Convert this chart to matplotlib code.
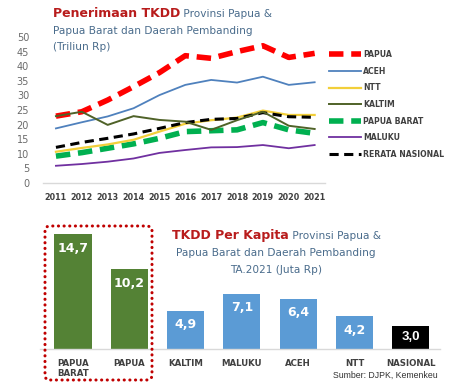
import numpy as np
import matplotlib
matplotlib.use('Agg')
import matplotlib.pyplot as plt
from matplotlib.patches import FancyBboxPatch

# Data: TKDD receipts (Triliun Rp)
years = [2011, 2012, 2013, 2014, 2015, 2016, 2017, 2018, 2019, 2020, 2021]
papua = [22.9, 24.4, 28.4, 33.0, 37.8, 43.6, 42.7, 45.0, 47.0, 43.0, 44.4]
aceh = [18.7, 20.8, 22.8, 25.6, 30.1, 33.6, 35.3, 34.4, 36.4, 33.6, 34.5]
ntt = [10.7, 12.0, 13.2, 14.8, 17.6, 20.3, 21.5, 22.4, 24.8, 23.3, 23.3]
kaltim = [22.9, 24.4, 19.9, 22.9, 21.6, 21.0, 18.2, 21.5, 24.4, 19.6, 18.5]
papua_barat = [9.2, 10.4, 11.9, 13.4, 15.3, 17.6, 17.9, 18.2, 20.7, 18.2, 17.0]
maluku = [5.9, 6.5, 7.3, 8.4, 10.3, 11.3, 12.2, 12.3, 13.0, 11.9, 13.0]
rerata = [12.2, 13.9, 15.3, 16.8, 18.7, 20.7, 21.8, 22.1, 24.1, 22.7, 22.5]
y_ticks = [0, 5, 10, 15, 20, 25, 30, 35, 40, 45, 50]

# Data: TKDD per capita TA.2021 (Juta Rp)
regions = ['PAPUA\nBARAT', 'PAPUA', 'KALTIM', 'MALUKU', 'ACEH', 'NTT', 'NASIONAL']
per_capita = [14.7, 10.2, 4.9, 7.1, 6.4, 4.2, 3.0]
value_labels = ['14,7', '10,2', '4,9', '7,1', '6,4', '4,2', '3,0']

W, H = 474, 385
fig = plt.figure(figsize=(W / 100, H / 100), dpi=100)
plt.rcParams['font.family'] = ['DejaVu Sans']

red_dark = '#B81C1C'
blue_grey = '#4A6C8C'
txt_dark = '#404040'

def fx(px):
	return px / W

def fy(px):
	return 1 - px / H

# ---------- Top line chart ----------
ax = fig.add_axes([fx(43), fy(183), fx(282), 146 / H])
ax.plot(years, maluku, color='#7030A0', lw=1.3, label='MALUKU')
ax.plot(years, papua_barat, color='#00B050', lw=4, dashes=(2.6, 1.4), label='PAPUA BARAT')
ax.plot(years, ntt, color='#F2CF3A', lw=1.6, label='NTT')
ax.plot(years, rerata, color='black', lw=2.2, dashes=(3, 1.8), label='RERATA NASIONAL')
ax.plot(years, aceh, color='#4F81BD', lw=1.3, label='ACEH')
ax.plot(years, papua, color='#FF0000', lw=4, dashes=(2.6, 1.4), label='PAPUA')
ax.plot(years, kaltim, color='#4F6228', lw=1.4, label='KALTIM')

ax.set_xlim(2010.5, 2021.4)
ax.set_ylim(0, 50)
ax.set_xticks(years)
ax.set_xticklabels([str(y) for y in years], fontsize=5.8, fontweight='bold', color=txt_dark)
ax.set_yticks(y_ticks)
ax.set_yticklabels([str(v) for v in y_ticks], fontsize=7, color='#6b6b6b')
ax.tick_params(length=0)
ax.tick_params(axis='x', pad=7)
ax.tick_params(axis='y', pad=10)
for s in ['top', 'right', 'left']:
	ax.spines[s].set_visible(False)
ax.spines['bottom'].set_color('#d9d9d9')
ax.spines['bottom'].set_linewidth(1)
ax.patch.set_alpha(0)

# legend in fixed order
h, l = ax.get_legend_handles_labels()
order = ['PAPUA', 'ACEH', 'NTT', 'KALTIM', 'PAPUA BARAT', 'MALUKU', 'RERATA NASIONAL']
hd = dict(zip(l, h))
leg = fig.legend([hd[k] for k in order], order, loc='upper left',
	bbox_to_anchor=(fx(326), fy(47)), frameon=False, fontsize=5.6,
	handlelength=4.1, handletextpad=0.25, labelspacing=0.98, borderaxespad=0)
for t in leg.get_texts():
	t.set_color(txt_dark)
	t.set_fontweight('bold')

# top title
t1 = fig.text(fx(53), fy(17), 'Penerimaan TKDD', fontsize=9, fontweight='bold',
	color=red_dark, va='baseline', ha='left')
ax.annotate(' Provinsi Papua &', xy=(1, fy(17)), xycoords=(t1, 'figure fraction'),
	fontsize=7.6, color=blue_grey, va='baseline', ha='left')
fig.text(fx(53), fy(34), 'Papua Barat dan Daerah Pembanding', fontsize=7.6,
	color=blue_grey, va='baseline', ha='left')
fig.text(fx(53), fy(50), '(Triliun Rp)', fontsize=7.6, color=blue_grey,
	va='baseline', ha='left')

# ---------- Bottom bar chart ----------
bx = fig.add_axes([fx(40), fy(349), fx(400), 124.8 / H])
pos = np.arange(len(regions))
colors = ['#548235', '#548235', '#5B9BD5', '#5B9BD5', '#5B9BD5', '#5B9BD5', 'black']
bars = bx.bar(pos, per_capita, width=0.66, color=colors)
bx.set_xlim(-0.586, 6.52)
bx.set_ylim(0, 16)
bx.set_yticks([])
bx.set_xticks([])
for s in ['top', 'right', 'left']:
	bx.spines[s].set_visible(False)
bx.spines['bottom'].set_color('#d9d9d9')
bx.spines['bottom'].set_linewidth(1)
bx.patch.set_alpha(0)

for i, (b, lab) in enumerate(zip(bars, value_labels)):
	if regions[i] == 'NASIONAL':
		bx.annotate(lab, (b.get_x() + b.get_width() / 2, b.get_height()),
			xytext=(0, -8.5), textcoords='offset points', ha='center', va='center',
			color='white', fontsize=9.5, fontweight='bold', family='Liberation Sans')
	else:
		bx.annotate(lab, (b.get_x() + b.get_width() / 2, b.get_height()),
			xytext=(0, -10), textcoords='offset points', ha='center', va='center',
			color='white', fontsize=9, fontweight='bold')

for i, r in enumerate(regions):
	bx.annotate(r, (pos[i], 0), xytext=(0, -7), textcoords='offset points',
		ha='center', va='top', fontsize=6.2, fontweight='bold', color=txt_dark,
		multialignment='left', linespacing=1.25)

# dotted highlight box
box = FancyBboxPatch((fx(45), fy(380)), fx(107), (380 - 226) / H,
	boxstyle='round,pad=0,rounding_size=0.012', transform=fig.transFigure,
	fill=False, edgecolor='#C00000', lw=2.2, linestyle=(0, (0.05, 1.8)),
	capstyle='round', figure=fig)
fig.patches.append(box)

# bottom title
t2 = fig.text(fx(172), fy(239), 'TKDD Per Kapita', fontsize=9, fontweight='bold',
	color=red_dark, va='baseline', ha='left')
ax.annotate(' Provinsi Papua &', xy=(1, fy(239)), xycoords=(t2, 'figure fraction'),
	fontsize=7.6, color=blue_grey, va='baseline', ha='left')
fig.text(fx(276), fy(256), 'Papua Barat dan Daerah Pembanding', fontsize=7.6,
	color=blue_grey, va='baseline', ha='center')
fig.text(fx(276), fy(273), 'TA.2021 (Juta Rp)', fontsize=7.6, color=blue_grey,
	va='baseline', ha='center')

fig.text(fx(333), fy(378), 'Sumber: DJPK, Kemenkeu', fontsize=6.3, color='#333333',
	family='Liberation Sans', ha='left', va='baseline')

fig.savefig('out.png', dpi=100)
